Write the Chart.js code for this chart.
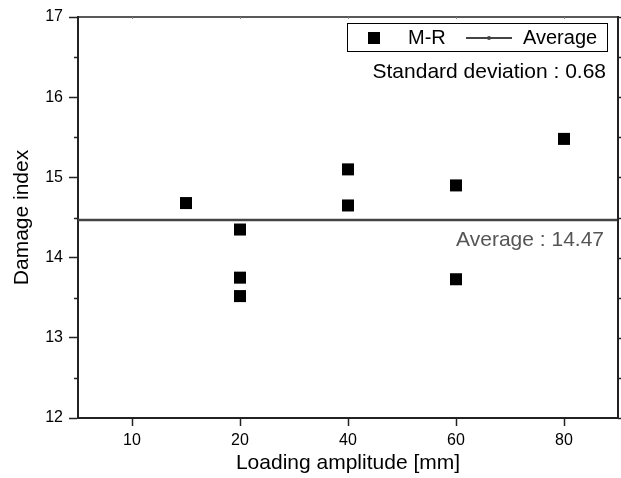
<!DOCTYPE html>
<html>
<head>
<meta charset="utf-8">
<script src="https://cdn.jsdelivr.net/npm/chart.js@4"></script>
<style>
  html, body { margin: 0; padding: 0; background: #fff; }
  #wrap { width: 621px; height: 478px; position: relative; }
</style>
</head>
<body>
<div id="wrap"><canvas id="chart"></canvas></div>
<script>
// Damage index vs loading amplitude (M-R specimens)
const tickAmplitudes = [10, 20, 40, 60, 80];
const amplitudes = [15, 20, 20, 20, 40, 40, 60, 60, 80];
const damageIndex = [14.68, 14.35, 13.75, 13.52, 15.10, 14.65, 14.90, 13.73, 15.48];
const averageValue = 14.47;
const stdDeviation = 0.68;

const FONT = "'Liberation Sans', Arial, sans-serif";

// the x axis is evenly spaced by tick, not by value
function toPos(a) {
    for (let i = 0; i < tickAmplitudes.length - 1; i++) {
        const lo = tickAmplitudes[i], hi = tickAmplitudes[i + 1];
        if (a >= lo && a <= hi) return i + 1 + (a - lo) / (hi - lo);
    }
    return tickAmplitudes.length;
}

const points = amplitudes.map((a, i) => ({ x: toPos(a), y: damageIndex[i] }));
const xMin = 0.5, xMax = tickAmplitudes.length + 0.5;

// frame, minor ticks, legend and notes
const decorations = {
    id: 'decorations',
    afterDraw(chart) {
        const { ctx, chartArea: a, scales: { x, y } } = chart;
        ctx.save();
        ctx.strokeStyle = '#222';
        // top and right frame
        ctx.lineWidth = 1.5;
        ctx.beginPath();
        ctx.moveTo(a.left, a.top);
        ctx.lineTo(a.right, a.top);
        ctx.stroke();
        ctx.lineWidth = 2;
        ctx.beginPath();
        ctx.moveTo(a.right, a.top - 1);
        ctx.lineTo(a.right, a.bottom);
        ctx.stroke();

        ctx.lineWidth = 1.5;
        for (let v = y.min; v <= y.max + 1e-9; v += 0.5) {
            const py = Math.round(y.getPixelForValue(v)) + 0.5;
            // right ticks (major and minor)
            ctx.beginPath();
            ctx.moveTo(a.right, py);
            ctx.lineTo(a.right + 4, py);
            ctx.stroke();
            // left minor ticks
            if (Math.abs(v - Math.round(v)) > 0.01) {
                ctx.beginPath();
                ctx.moveTo(a.left, py);
                ctx.lineTo(a.left - 4, py);
                ctx.stroke();
            }
        }
        // top ticks, small and inward
        ctx.lineWidth = 1;
        ctx.strokeStyle = '#888';
        x.ticks.forEach(t => {
            const px = Math.round(x.getPixelForValue(t.value)) + 0.5;
            ctx.beginPath();
            ctx.moveTo(px, a.top);
            ctx.lineTo(px, a.top + 2);
            ctx.stroke();
        });

        // legend
        const ds = chart.data.datasets;
        const bx = a.right - 271, by = a.top + 6.5, bw = 260, bh = 28;
        ctx.strokeStyle = '#000';
        ctx.lineWidth = 1;
        ctx.strokeRect(bx + 0.5, by, bw, bh);
        const cy = by + bh / 2 + 0.5;
        ctx.fillStyle = ds[0].backgroundColor;
        ctx.fillRect(bx + 21, cy - 6, 12, 12);
        ctx.font = '20px ' + FONT;
        ctx.textBaseline = 'middle';
        ctx.textAlign = 'left';
        ctx.fillStyle = '#000';
        ctx.fillText(ds[0].label, bx + 61, cy);
        ctx.strokeStyle = ds[1].borderColor;
        ctx.lineWidth = 2;
        ctx.beginPath();
        ctx.moveTo(bx + 119, cy);
        ctx.lineTo(bx + 165, cy);
        ctx.stroke();
        ctx.fillStyle = ds[1].borderColor;
        ctx.beginPath();
        ctx.arc(bx + 142, cy, 2, 0, Math.PI * 2);
        ctx.fill();
        ctx.fillStyle = '#000';
        ctx.fillText(ds[1].label, bx + 176, cy);

        // notes
        ctx.font = '21px ' + FONT;
        ctx.textAlign = 'right';
        ctx.fillText('Standard deviation : ' + stdDeviation.toFixed(2), a.right - 12, a.top + 55);
        ctx.fillStyle = '#555';
        ctx.fillText('Average : ' + averageValue.toFixed(2), a.right - 14, y.getPixelForValue(averageValue) + 20);
        ctx.restore();
    }
};

new Chart(document.getElementById('chart'), {
    type: 'scatter',
    data: {
        datasets: [
            {
                label: 'M-R',
                data: points,
                backgroundColor: '#000',
                borderColor: '#000',
                pointStyle: 'rect',
                pointRadius: 8.5,
                pointBorderWidth: 0,
                order: 1
            },
            {
                type: 'line',
                label: 'Average',
                data: [{ x: xMin, y: averageValue }, { x: xMax, y: averageValue }],
                borderColor: '#444',
                borderWidth: 2.5,
                pointRadius: 0,
                fill: false,
                order: 2
            }
        ]
    },
    options: {
        responsive: true,
        maintainAspectRatio: false,
        animation: false,
        layout: { autoPadding: false, padding: { top: 17, right: 3, left: 0, bottom: 0 } },
        plugins: {
            legend: { display: false },
            tooltip: { enabled: false }
        },
        scales: {
            x: {
                type: 'linear',
                min: xMin,
                max: xMax,
                afterBuildTicks: (scale) => {
                    scale.ticks = tickAmplitudes.map((_, i) => ({ value: i + 1 }));
                },
                afterFit: (scale) => {
                    scale.height = 60;
                    scale.paddingLeft = 0;
                    scale.paddingRight = 0;
                },
                ticks: {
                    callback: (value, index) => tickAmplitudes[index],
                    color: '#000',
                    padding: 5,
                    maxRotation: 0,
                    font: { family: FONT, size: 16 }
                },
                grid: {
                    drawOnChartArea: false,
                    drawTicks: true,
                    tickLength: 8,
                    tickWidth: 1.5,
                    tickColor: '#222'
                },
                border: { display: true, color: '#222', width: 2 },
                title: {
                    display: true,
                    text: 'Loading amplitude [mm]',
                    color: '#000',
                    font: { family: FONT, size: 21 },
                    padding: { top: 0, bottom: 2 }
                }
            },
            y: {
                min: 12,
                max: 17,
                afterFit: (scale) => { scale.width = 78; },
                ticks: {
                    stepSize: 1,
                    color: '#000',
                    padding: 6,
                    font: { family: FONT, size: 16 }
                },
                grid: {
                    drawOnChartArea: false,
                    drawTicks: true,
                    tickLength: 9,
                    tickWidth: 1.5,
                    tickColor: '#222'
                },
                border: { display: true, color: '#222', width: 2 },
                title: {
                    display: true,
                    text: 'Damage index',
                    color: '#000',
                    font: { family: FONT, size: 21 },
                    padding: { top: 10, bottom: 0 }
                }
            }
        }
    },
    plugins: [decorations]
});
</script>
</body>
</html>
